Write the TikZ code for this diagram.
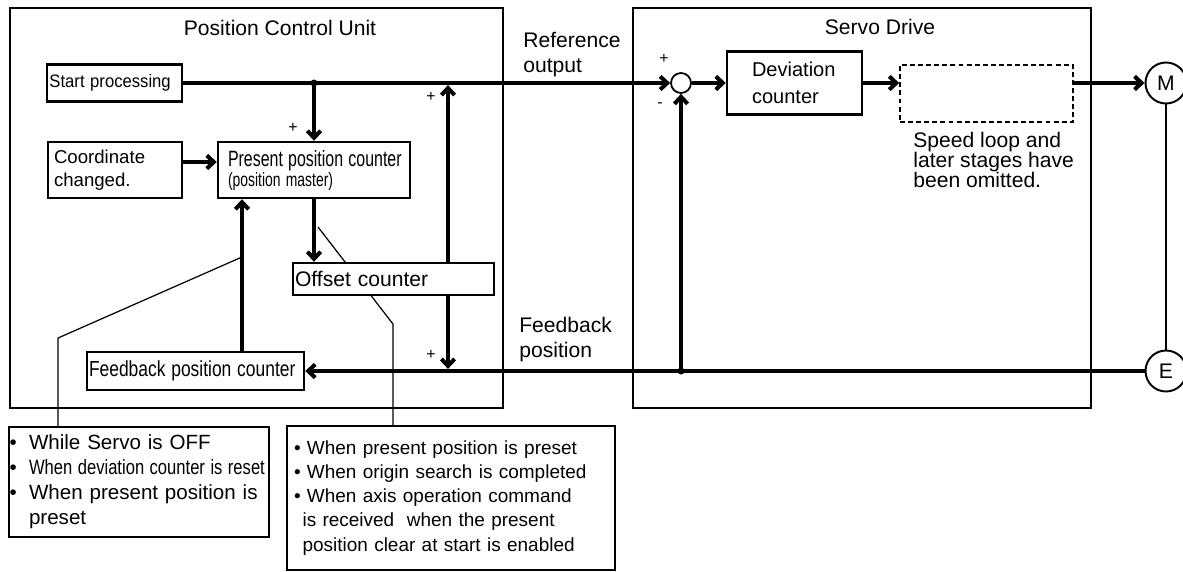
\documentclass[tikz,border=0pt]{standalone}
\usepackage{fontspec}
\usepackage{graphicx}
\setmainfont{Liberation Sans}
\usetikzlibrary{arrows.meta,positioning,calc}
\newcommand{\narrow}[2][0.8]{\scalebox{#1}[1]{#2}}
\newcommand{\cbul}{\makebox[0.95em][l]{•}}
\newcommand{\rbul}{•\ }

\begin{document}
\begin{tikzpicture}[
  blk/.style={draw, line width=1.4pt, fill=white, inner ysep=0pt, align=left},
  arr/.style={line width=2.3pt, -{Straight Barb[length=4pt,width=7.5pt]}},
  lead/.style={line width=0.7pt},
  panel/.style={draw, line width=0.9pt},
  lbl/.style={anchor=west, align=left, inner sep=0pt},
  sgn/.style={font=\fontsize{9}{9}\selectfont, inner sep=0pt},
  ring/.style={circle, draw, inner sep=0pt, font=\fontsize{12}{12}\selectfont}
]
  \useasboundingbox (0,0) rectangle (23.66,11.42);
  % panels
  \node[panel, minimum width=9.86cm, minimum height=8.00cm] (pcu) at (5.13,7.26) {};
  \node[font=\fontsize{12}{14.2}\selectfont] (pcut) at (5.60,10.86) {Position Control Unit};
  \node[panel, minimum width=9.16cm, minimum height=8.00cm] (sdv) at (17.24,7.26) {};
  \node[font=\fontsize{12}{14.2}\selectfont] (sdvt) at (17.60,10.88) {Servo Drive};
  % callout boxes
  \node[blk, line width=1.1pt, minimum height=2.20cm, text width=5.18cm, inner xsep=0.01cm, font=\fontsize{11.7}{14.2}\selectfont] (cl1) at (2.78,1.78) {%
    \cbul While Servo is OFF\\
    \cbul\narrow{\fontsize{11.8}{14.2}\selectfont When deviation counter is reset}\\
    \cbul When present position is\\
    \hspace*{0.95em}preset};
  \node[blk, line width=1.1pt, minimum height=2.88cm, text width=6.28cm, inner xsep=0.14cm, font=\fontsize{10.8}{13.7}\selectfont] (cl2) at (9.02,1.46) {%
    \rbul When present position is preset\\
    \rbul When origin search is completed\\
    \rbul When axis operation command\\
    \hspace*{0.45em}is received\ \ when the present\\
    \hspace*{0.45em}position clear at start is enabled};
  \coordinate (k1) at (4.84,6.28);
  \coordinate (k2) at (6.36,6.88);
  \draw[lead] ([xshift=-1.62cm]cl1.north) -- ++(0,1.76) -- (k1);
  \draw[lead] ([xshift=-1.16cm]cl2.north) -- ++(0,2.02) -- (k2);
  % position control unit blocks
  \node[blk, font=\fontsize{10.3}{11}\selectfont, minimum height=0.74cm, text width=2.60cm, inner xsep=0.05cm] (start) at (2.29,9.76) {\narrow[0.92]{Start processing}};
  \node[blk, font=\fontsize{10.6}{13}\selectfont, minimum height=1.12cm, text width=2.44cm, inner xsep=0.12cm] (coord) at (2.30,8.02) {Coordinate\\changed.};
  \node[blk, font=\fontsize{12.6}{11.4}\selectfont, minimum height=1.12cm, text width=3.44cm, inner xsep=0.2cm] (ppc) at (6.28,8.02) {\narrow[0.72]{Present position counter}\\\narrow[0.72]{\fontsize{11}{11.4}\selectfont(position master)}};
  \node[blk, font=\fontsize{12}{14}\selectfont, minimum height=0.64cm, text width=3.94cm, inner xsep=0.04cm] (off) at (7.87,5.84) {Offset counter};
  \node[blk, font=\fontsize{12.4}{14}\selectfont, minimum height=0.76cm, text width=4.26cm, inner xsep=0.04cm] (fpc) at (3.91,4.00) {\narrow{Feedback position counter}};
  % servo drive blocks
  \node[ring, line width=1pt, minimum size=0.40cm] (sum) at (13.62,9.76) {};
  \node[blk, font=\fontsize{11.4}{15.4}\selectfont, minimum height=1.26cm, text width=1.70cm, inner xsep=0.5cm] (dev) at (15.89,9.76) {Deviation\\counter};
  \node[draw, dash pattern=on 2.8pt off 1.8pt, line width=0.9pt, minimum width=3.46cm, minimum height=1.14cm] (omit) at (19.73,9.55) {};
  \node[lbl, font=\fontsize{12}{11.4}\selectfont] (omitt) at (18.26,8.22) {Speed loop and\\later stages have\\been omitted.};
  \node[ring, line width=1.1pt, minimum size=0.82cm] (mot) at (23.32,9.76) {M};
  \node[ring, line width=1.1pt, minimum size=0.82cm] (enc) at (23.32,4.00) {E};
  % signal labels
  \node[lbl, font=\fontsize{12}{14.2}\selectfont] (reflbl) at (10.46,10.33) {Reference\\output};
  \node[lbl, font=\fontsize{12}{14.2}\selectfont] (fblbl) at (10.38,4.63) {Feedback\\position};
  \node[sgn] (p1) at (5.86,8.86) {+};
  \node[sgn] (p2) at (8.62,9.48) {+};
  \node[sgn] (p3) at (8.62,4.32) {+};
  \node[sgn] (p4) at (13.28,10.24) {+};
  \node[sgn] (m1) at (13.20,9.32) {-};
  % junctions
  \coordinate (jref) at (6.28,9.76);
  \coordinate (oup) at (8.96,9.76);
  \coordinate (odn) at (8.96,4.00);
  \coordinate (jfb) at (13.62,4.00);
  % connectors
  \draw[arr] (start.east) -- (sum.west);
  \fill (jref) circle (0.07);
  \draw[arr] (jref) -- (ppc.north);
  \draw[arr] ([yshift=0.16cm]coord.east) -- ([yshift=0.16cm]ppc.west);
  \draw[arr] (ppc.south) -- (ppc.south |- off.north);
  \draw[arr, shorten >=1.2pt] (off.north -| oup) -- (oup);
  \draw[arr, shorten >=1.2pt] (off.south -| odn) -- (odn);
  \draw[arr] ([xshift=0.93cm]fpc.north) -- ([xshift=0.93cm]fpc.north |- ppc.south);
  \draw[arr] (sum.east) -- (dev.west);
  \draw[arr] (dev.east) -- (dev.east -| omit.west);
  \draw[arr] (omit.east |- mot.west) -- (mot.west);
  \draw[line width=1pt] (mot.south) -- (enc.north);
  \draw[arr] (enc.west) -- (fpc.east);
  \fill (jfb) circle (0.07);
  \draw[arr] (jfb) -- (sum.south);
\end{tikzpicture}
\end{document}
